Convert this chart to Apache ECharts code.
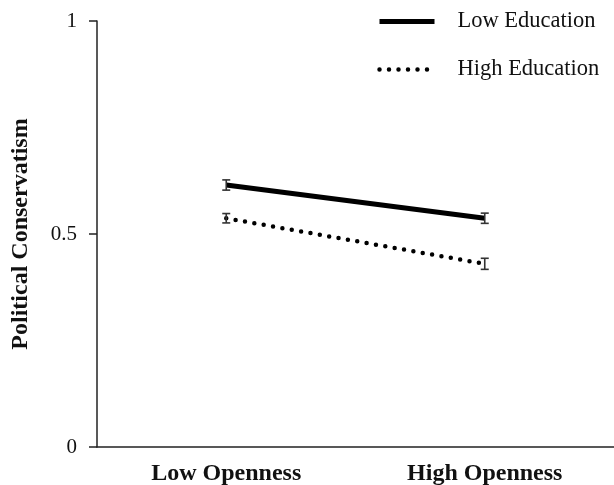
<!DOCTYPE html>
<html>
<head>
<meta charset="utf-8">
<script src="https://cdn.jsdelivr.net/npm/echarts@6/dist/echarts.min.js"></script>
<style>
  html, body { margin: 0; padding: 0; background: #fff; }
  #chart { width: 614px; height: 485px; }
</style>
</head>
<body>
<div id="chart"></div>
<script>
const categories = ['Low Openness', 'High Openness']
const seriesNames = ['Low Education', 'High Education']
const lowEduMean = [0.615, 0.537]
const lowEduErr = [0.012, 0.012]
const highEduMean = [0.537, 0.43]
const highEduErr = [0.011, 0.013]
const yTicks = [0, 0.5, 1]

const serif = '"Liberation Serif", "DejaVu Serif", serif'
const solidLine = { color: '#000', width: 5 }
const dottedLine = { color: '#000', width: 4.5, type: [0, 9.5], cap: 'round' }

// error bar rows: [categoryIndex, low, high]
const errRows = (mean, err) => mean.map((m, i) => [i, m - err[i], m + err[i]])

const renderErr = (params, api) => {
  const x = api.value(0)
  const lo = api.coord([x, api.value(1)])
  const hi = api.coord([x, api.value(2)])
  const cap = 4
  const style = { stroke: '#333', lineWidth: 1.6, fill: null }
  return {
    type: 'group',
    children: [
      { type: 'line', shape: { x1: lo[0], y1: lo[1], x2: hi[0], y2: hi[1] }, style },
      { type: 'line', shape: { x1: lo[0] - cap, y1: lo[1], x2: lo[0] + cap, y2: lo[1] }, style },
      { type: 'line', shape: { x1: hi[0] - cap, y1: hi[1], x2: hi[0] + cap, y2: hi[1] }, style }
    ]
  }
}

const chart = echarts.init(document.getElementById('chart'))
chart.setOption({
  animation: false,
  grid: { left: 97, right: 0, top: 21, bottom: 38, outerBoundsMode: 'none' },
  legend: {
    orient: 'vertical',
    left: 372,
    top: 5,
    itemGap: 25,
    itemWidth: 55,
    itemHeight: 22,
    itemStyle: { opacity: 0 },
    data: [
      { name: seriesNames[0], lineStyle: solidLine },
      { name: seriesNames[1], lineStyle: dottedLine }
    ],
    textStyle: { fontFamily: serif, fontSize: 22.5, color: '#111', padding: [0, 0, 0, 18] }
  },
  xAxis: {
    type: 'category',
    data: categories,
    axisLine: { lineStyle: { color: '#222', width: 1.5 } },
    axisTick: { show: false },
    axisLabel: { margin: 15, fontFamily: serif, fontSize: 24, fontWeight: 'bold', color: '#111' }
  },
  yAxis: {
    type: 'value',
    min: 0,
    max: 1,
    interval: 0.5,
    name: 'Political Conservatism',
    nameLocation: 'middle',
    nameGap: 64,
    nameTextStyle: { fontFamily: serif, fontSize: 24, fontWeight: 'bold', color: '#111' },
    axisLine: { show: true, lineStyle: { color: '#222', width: 1.5 } },
    axisTick: { show: true, length: 8, lineStyle: { color: '#222', width: 1.5 } },
    splitLine: { show: false },
    axisLabel: {
      margin: 20,
      fontFamily: serif,
      fontSize: 21,
      color: '#111',
      formatter: v => (yTicks.includes(v) ? String(v) : '')
    }
  },
  series: [
    {
      name: seriesNames[0],
      type: 'line',
      data: lowEduMean,
      symbol: 'none',
      lineStyle: solidLine,
      itemStyle: { color: '#000' },
      z: 3
    },
    {
      name: seriesNames[1],
      type: 'line',
      data: highEduMean,
      symbol: 'none',
      lineStyle: dottedLine,
      itemStyle: { color: '#000' },
      z: 3
    },
    {
      type: 'custom',
      renderItem: renderErr,
      data: errRows(lowEduMean, lowEduErr),
      z: 4
    },
    {
      type: 'custom',
      renderItem: renderErr,
      data: errRows(highEduMean, highEduErr),
      z: 4
    }
  ]
})
</script>
</body>
</html>
